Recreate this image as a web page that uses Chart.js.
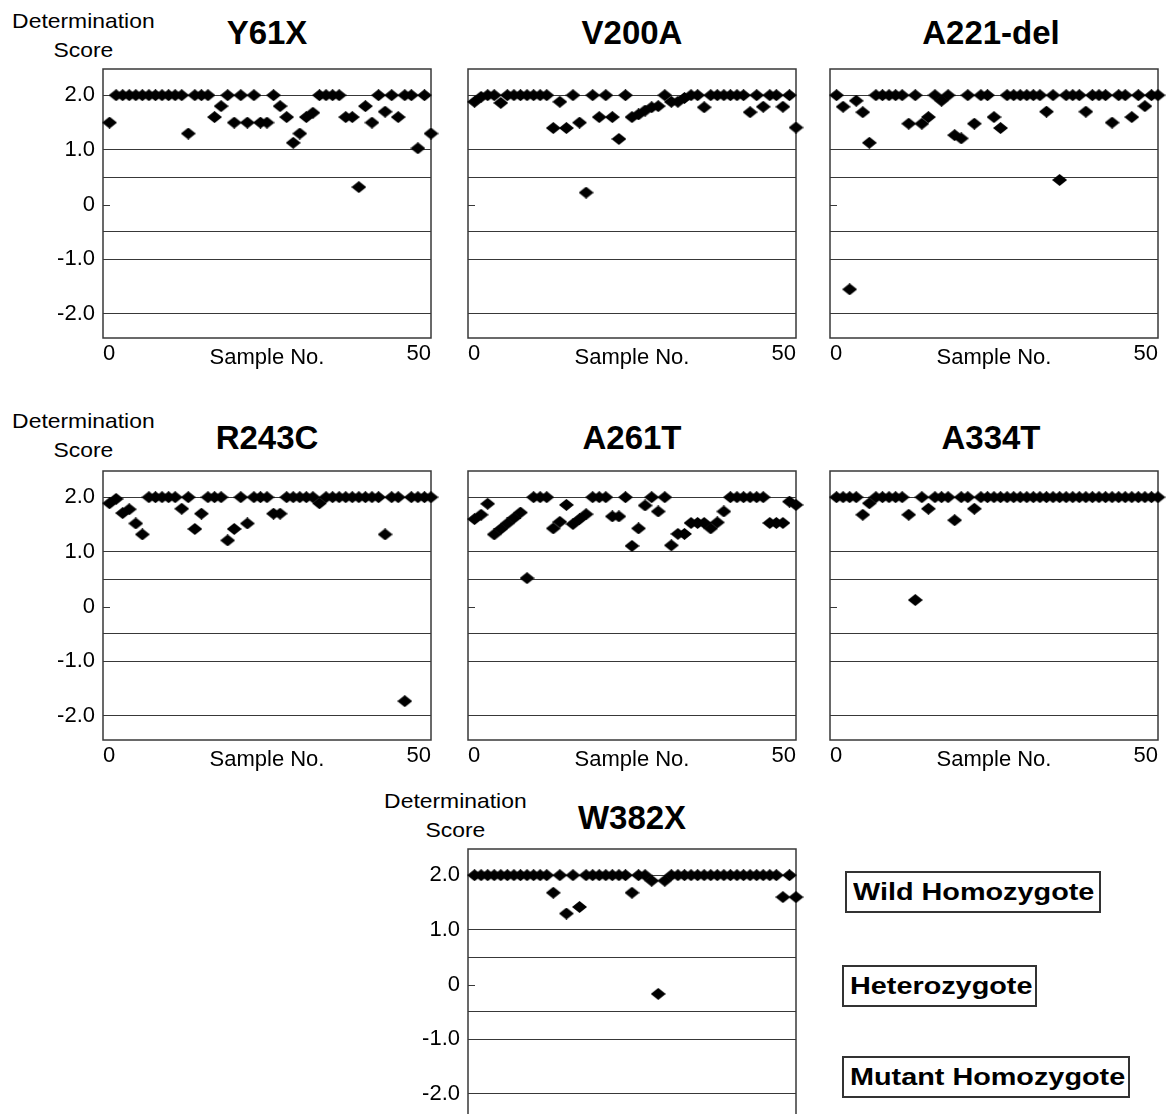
<!DOCTYPE html>
<html>
<head>
<meta charset="utf-8">
<title>Determination Score</title>
<script src="https://cdn.jsdelivr.net/npm/chart.js@4.4.1/dist/chart.umd.min.js"></script>
<style>
body{margin:0;background:#fff;width:1167px;height:1114px;overflow:hidden;position:relative;font-family:'Liberation Sans',Arial,sans-serif;color:#000}
canvas{position:absolute}
.title{position:absolute;width:300px;text-align:center;font-weight:bold;font-size:33px;line-height:40px}
.ylab{position:absolute;width:170px;text-align:center;font-size:21px;line-height:29px}
.ylab span{display:inline-block;transform:scaleX(1.09)}
.key{position:absolute;box-sizing:border-box;border:2px solid #333;height:42px;padding-left:6px;font-weight:bold;font-size:24px;line-height:38px;white-space:nowrap}
.key span{display:inline-block;transform:scaleX(1.2);transform-origin:left center}
</style>
</head>
<body>
<div class="ylab" style="left:-2px;top:6px"><span>Determination</span><br><span>Score</span></div>
<div class="ylab" style="left:-2px;top:406px"><span>Determination</span><br><span>Score</span></div>
<div class="ylab" style="left:370px;top:786px"><span>Determination</span><br><span>Score</span></div>

<div class="title" style="left:117px;top:13px">Y61X</div>
<div class="title" style="left:482px;top:13px">V200A</div>
<div class="title" style="left:841px;top:13px">A221-del</div>
<div class="title" style="left:117px;top:418px">R243C</div>
<div class="title" style="left:482px;top:418px">A261T</div>
<div class="title" style="left:841px;top:418px">A334T</div>
<div class="title" style="left:482px;top:798px">W382X</div>

<canvas id="y61x" width="404" height="323" style="left:43px;top:57px"></canvas>
<canvas id="v200a" width="404" height="323" style="left:408px;top:57px"></canvas>
<canvas id="a221del" width="404" height="323" style="left:770px;top:57px"></canvas>
<canvas id="r243c" width="404" height="323" style="left:43px;top:459px"></canvas>
<canvas id="a261t" width="404" height="323" style="left:408px;top:459px"></canvas>
<canvas id="a334t" width="404" height="323" style="left:770px;top:459px"></canvas>
<canvas id="w382x" width="404" height="323" style="left:408px;top:837px"></canvas>

<div class="key" style="left:845px;top:871px;width:256px"><span>Wild Homozygote</span></div>
<div class="key" style="left:842px;top:965px;width:195px"><span>Heterozygote</span></div>
<div class="key" style="left:842px;top:1056px;width:288px"><span>Mutant Homozygote</span></div>

<script>
Chart.defaults.font.family = "'Liberation Sans', Arial, sans-serif";
Chart.defaults.color = '#000';

// sample numbers along x
const sampleNo = [1,2,3,4,5,6,7,8,9,10,11,12,13,14,15,16,17,18,19,20,21,22,23,24,25,
  26,27,28,29,30,31,32,33,34,35,36,37,38,39,40,41,42,43,44,45,46,47,48,49,50];
const xTickValues = [0, 50];
const gridLevels = [-2, -1, -0.5, 0, 0.5, 1, 2];
const gridLabels = ['-2.0', '-1.0', '', '0', '', '1.0', '2.0'];

// determination scores
const y61x = [1.5,2,2,2,2,2,2,2,2,2,2,2,1.3,2,2,2,1.6,1.8,2,1.5,2,1.5,2,1.5,1.5,
  2,1.8,1.6,1.13,1.3,1.6,1.68,2,2,2,2,1.6,1.6,0.32,1.8,1.5,2,1.7,2,1.6,2,2,1.03,2,1.3];
const v200a = [1.88,1.97,2,2,1.86,2,2,2,2,2,2,2,1.4,1.88,1.4,2,1.5,0.22,2,1.6,2,1.6,1.2,2,1.6,
  1.65,1.72,1.78,1.8,2,1.88,1.88,1.95,2,2,1.78,2,2,2,2,2,2,1.69,2,1.79,2,2,1.79,2,1.41];
const a221del = [2,1.79,-1.55,1.9,1.69,1.13,2,2,2,2,2,1.48,2,1.48,1.6,2,1.9,2,1.27,1.21,2,1.48,2,2,1.6,
  1.4,2,2,2,2,2,2,1.7,2,0.45,2,2,2,1.7,2,2,2,1.5,2,2,1.6,2,1.8,2,2];
const r243c = [1.89,1.97,1.71,1.78,1.52,1.32,2,2,2,2,2,1.79,2,1.42,1.7,2,2,2,1.21,1.42,2,1.52,2,2,2,
  1.7,1.7,2,2,2,2,2,1.89,2,2,2,2,2,2,2,2,2,1.32,2,2,-1.73,2,2,2,2];
const a261t = [1.6,1.68,1.88,1.32,1.42,1.52,1.62,1.72,0.52,2,2,2,1.43,1.55,1.86,1.51,1.6,1.69,2,2,2,1.65,1.65,2,1.11,
  1.43,1.85,2,1.74,2,1.12,1.33,1.33,1.53,1.53,1.53,1.43,1.54,1.74,2,2,2,2,2,2,1.53,1.53,1.53,1.92,1.86];
const a334t = [2,2,2,2,1.68,1.89,2,2,2,2,2,1.68,0.12,2,1.79,2,2,2,1.58,2,2,1.79,2,2,2,
  2,2,2,2,2,2,2,2,2,2,2,2,2,2,2,2,2,2,2,2,2,2,2,2,2];
const w382x = [2,2,2,2,2,2,2,2,2,2,2,2,1.68,2,1.3,2,1.42,2,2,2,2,2,2,2,1.68,
  2,2,1.9,-0.17,1.9,2,2,2,2,2,2,2,2,2,2,2,2,2,2,2,2,2,1.6,2,1.6];

const lineColor = '#383838';

function diamond(w, h){
  const c = document.createElement('canvas');
  c.width = w; c.height = h;
  const g = c.getContext('2d');
  g.fillStyle = '#000';
  g.beginPath();
  g.moveTo(w/2, 0); g.lineTo(w, h/2); g.lineTo(w/2, h); g.lineTo(0, h/2);
  g.closePath(); g.fill();
  return c;
}
const marker = diamond(15, 12);

// box round the plot and the little tick at 0
const framePlugin = {
  id: 'frame',
  beforeDatasetsDraw(chart){
    const {ctx, chartArea: a, scales: {y}} = chart;
    ctx.save();
    ctx.strokeStyle = lineColor;
    ctx.lineWidth = 1.5;
    ctx.strokeRect(a.left, a.top, a.right - a.left, a.bottom - a.top);
    const y0 = Math.round(y.getPixelForValue(0)) + 0.5;
    ctx.lineWidth = 1;
    ctx.beginPath(); ctx.moveTo(a.left, y0); ctx.lineTo(a.left + 7, y0); ctx.stroke();
    ctx.restore();
  }
};

function panel(id, values, showLabels){
  new Chart(document.getElementById(id), {
    type: 'scatter',
    data: {
      datasets: [{
        data: sampleNo.map((x, i) => ({x: x, y: values[i]})),
        pointStyle: marker,
        pointRadius: 7,
        backgroundColor: '#000',
        borderWidth: 0,
        clip: false
      }]
    },
    options: {
      responsive: false,
      animation: false,
      devicePixelRatio: 1,
      layout: {padding: {top: 12, right: 16, left: 0, bottom: 0}},
      plugins: {legend: {display: false}, tooltip: {enabled: false}},
      scales: {
        x: {
          type: 'linear', min: 0, max: 50,
          afterBuildTicks: s => { s.ticks = xTickValues.map(v => ({value: v})) },
          grid: {display: false, drawTicks: false},
          border: {display: false},
          ticks: {align: 'inner', padding: 3, maxRotation: 0, autoSkip: false, font: {size: 22}},
          title: {display: true, text: 'Sample No.', font: {size: 22}, padding: {top: 0, bottom: 9}},
          afterFit: s => { s.height = 42; s.paddingLeft = 0; s.paddingRight = 0 }
        },
        y: {
          min: -2.44, max: 2.48,
          afterBuildTicks: s => { s.ticks = gridLevels.map(v => ({value: v})) },
          grid: {
            drawTicks: false,
            lineWidth: 1,
            color: c => (c.tick && c.tick.value === 0) ? 'rgba(0,0,0,0)' : lineColor
          },
          border: {display: false},
          ticks: {display: showLabels, padding: 8, font: {size: 22}, callback: (v, i) => gridLabels[i]},
          afterFit: s => { s.width = 60; s.paddingTop = 0; s.paddingBottom = 0 }
        }
      }
    },
    plugins: [framePlugin]
  });
}

panel('y61x', y61x, true);
panel('v200a', v200a, false);
panel('a221del', a221del, false);
panel('r243c', r243c, true);
panel('a261t', a261t, false);
panel('a334t', a334t, false);
panel('w382x', w382x, true);
</script>
</body>
</html>
